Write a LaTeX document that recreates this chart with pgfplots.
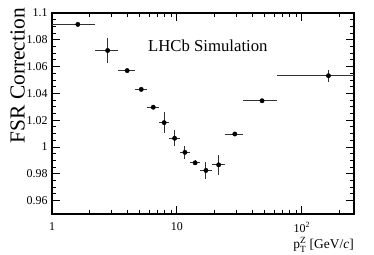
\documentclass[border=0pt]{standalone}
\usepackage{amsmath}
\usepackage{fontspec}
\setmainfont{Liberation Serif}
\usepackage{pgfplots}
\usepackage{pgfplotstable}
\pgfplotsset{compat=1.18}
\pgfplotstableread{
x      y       exm     exp    ey
1.61   1.0915  1.41    0.59   0.0005
2.79   1.0720  0.59    0.61   0.0090
4.00   1.0570  0.60    0.60   0.0010
5.18   1.0430  0.58    0.62   0.0010
6.47   1.0297  0.67    0.73   0.0010
7.91   1.0182  0.71    0.79   0.0080
9.59   1.0065  0.89    0.91   0.0060
11.6   0.9960  1.10    1.20   0.0050
14.0   0.9882  1.20    1.40   0.0020
17.1   0.9825  1.70    1.90   0.0064
21.6   0.9867  2.60    2.90   0.0076
29.1   1.0097  4.60    4.90   0.0010
48.1   1.0345  14.1    14.9   0.0010
163.6  1.0532  100.6   106.4  0.0044
}\fsr
\begin{document}
\begin{tikzpicture}
\path[use as bounding box] (-52bp,-41bp) rectangle (322bp,214bp);
\begin{axis}[
  scale only axis, width=302bp, height=201bp,
  xmode=log, xmin=1, xmax=262,
  ymin=0.95, ymax=1.1,
  axis line style={line width=1.1bp},
  tick align=inside,
  major tick length=8bp, minor tick length=4bp,
  every tick/.style={black, line width=0.9bp},
  xtick={1,10,100}, xticklabels={1,10,10\textsuperscript{2}},
  minor xtick={2,3,4,5,6,7,8,9,20,30,40,50,60,70,80,90,200},
  ytick={0.96,0.98,1,1.02,1.04,1.06,1.08,1.1},
  yticklabels={0.96,0.98,1,1.02,1.04,1.06,1.08,1.1},
  minor y tick num=3,
  ticklabel style={font=\fontsize{12}{14}\selectfont},
  xticklabel style={yshift=-5bp},
  yticklabel style={xshift=-1bp},
  xlabel={p$^{\text{Z}}_{\text{T}}$ [GeV/\textit{c}]},
  xlabel style={at={(axis description cs:1,0)}, anchor=north east, yshift=-23bp, font=\fontsize{13.5}{15}\selectfont, inner sep=0pt},
  ylabel={FSR Correction},
  ylabel style={at={(axis description cs:0,1)}, anchor=south east, xshift=5bp, yshift=27bp, font=\fontsize{21.5}{24}\selectfont, inner sep=0pt},
  clip=true,
]
\addplot[black, only marks, mark=*, mark size=2.2bp,
  error bars/.cd, x dir=both, x explicit, y dir=both, y explicit,
  error bar style={line width=1bp, black!80}, error mark=none]
  table[x=x, y=y, x error minus=exm, x error plus=exp, y error=ey] {\fsr};
\node[font=\fontsize{16.8}{19}\selectfont] at (axis cs:17.7,1.0758) {LHCb Simulation};
\end{axis}
\end{tikzpicture}
\end{document}
